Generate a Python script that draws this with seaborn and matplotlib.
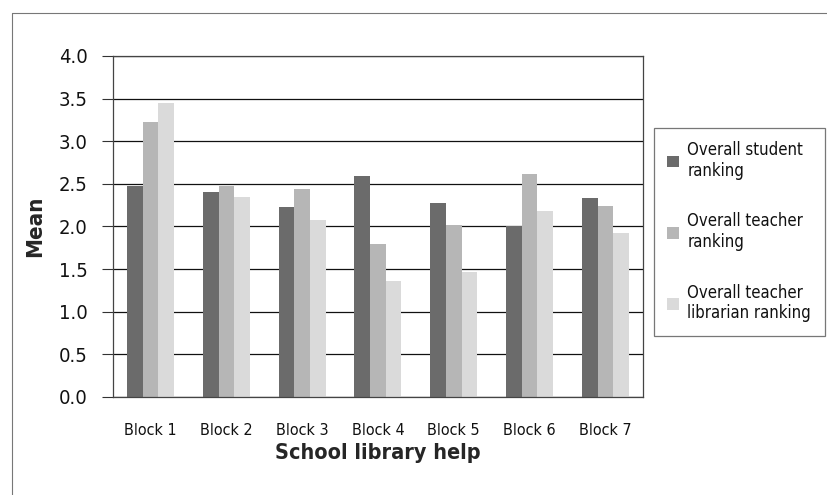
"""
plot.py - grouped bar chart of mean rankings of school library help by block.
"""
import pandas as pd
import seaborn as sns
import matplotlib as mpl
import matplotlib.pyplot as plt
from matplotlib.lines import Line2D

blocks = ['Block 1', 'Block 2', 'Block 3', 'Block 4', 'Block 5', 'Block 6', 'Block 7']
series = ['Overall student\nranking', 'Overall teacher\nranking',
          'Overall teacher\nlibrarian ranking']
student = [2.48, 2.41, 2.23, 2.59, 2.28, 2.00, 2.33]
teacher = [3.22, 2.48, 2.44, 1.80, 2.02, 2.62, 2.24]
librarian = [3.45, 2.35, 2.07, 1.36, 1.47, 2.18, 1.92]
yticks = [0.0, 0.5, 1.0, 1.5, 2.0, 2.5, 3.0, 3.5, 4.0]

df = pd.DataFrame({'block': blocks * 3,
                   'series': [series[0]] * 7 + [series[1]] * 7 + [series[2]] * 7,
                   'mean': student + teacher + librarian})

sns.set_style('white')
mpl.rcParams['font.family'] = ['DejaVu Sans']
mpl.rcParams['font.stretch'] = 'condensed'
mpl.rcParams['text.color'] = '#111111'

fig = plt.figure(figsize=(8.28, 4.95), dpi=100)
fig.patch.set_facecolor('white')
ax = fig.add_axes([0.136, 0.198, 0.641, 0.689])

palette = ['#6b6b6b', '#b6b6b6', '#dadada']
sns.barplot(data=df, x='block', y='mean', hue='series', palette=palette,
            width=0.62, saturation=1, linewidth=0, ax=ax, legend=True)

ax.set_ylim(0, 4.0)
ax.set_yticks(yticks)
ax.set_yticklabels([f"{t:.1f}" for t in yticks], fontsize=14.5, color='#111111')
ax.tick_params(axis='y', direction='out', length=8, width=0.8, color='#333333',
               left=True, pad=10)
ax.tick_params(axis='x', length=0, pad=19, labelsize=11.5, labelcolor='#111111')
ax.yaxis.grid(True, color='#111111', linewidth=0.9)
ax.set_axisbelow(True)
for s in ax.spines.values():
    s.set_color('#444444')
    s.set_linewidth(0.9)
ax.set_xlabel('School library help', fontsize=15.5, fontweight='bold', labelpad=3)
ax.set_ylabel('Mean', fontsize=16, fontweight='bold', labelpad=10)

handles, labels = ax.get_legend_handles_labels()
ax.get_legend().remove()
leg = fig.legend(handles, labels, loc='upper left', bbox_to_anchor=(0.790, 0.742),
                 fontsize=12, frameon=True, fancybox=False, edgecolor='#555555',
                 handlelength=0.7, handleheight=0.7, handletextpad=0.5,
                 labelspacing=1.95, borderpad=0.8, borderaxespad=0)
leg.get_frame().set_linewidth(0.9)

# thin border along the top and left of the figure
fig.add_artist(Line2D([12 / 828, 12 / 828], [0, 1 - 13 / 495], color='#777777',
                      linewidth=0.8, transform=fig.transFigure))
fig.add_artist(Line2D([12 / 828, 1], [1 - 13 / 495, 1 - 13 / 495], color='#777777',
                      linewidth=0.8, transform=fig.transFigure))

fig.savefig('out.png', dpi=100, facecolor='white')
